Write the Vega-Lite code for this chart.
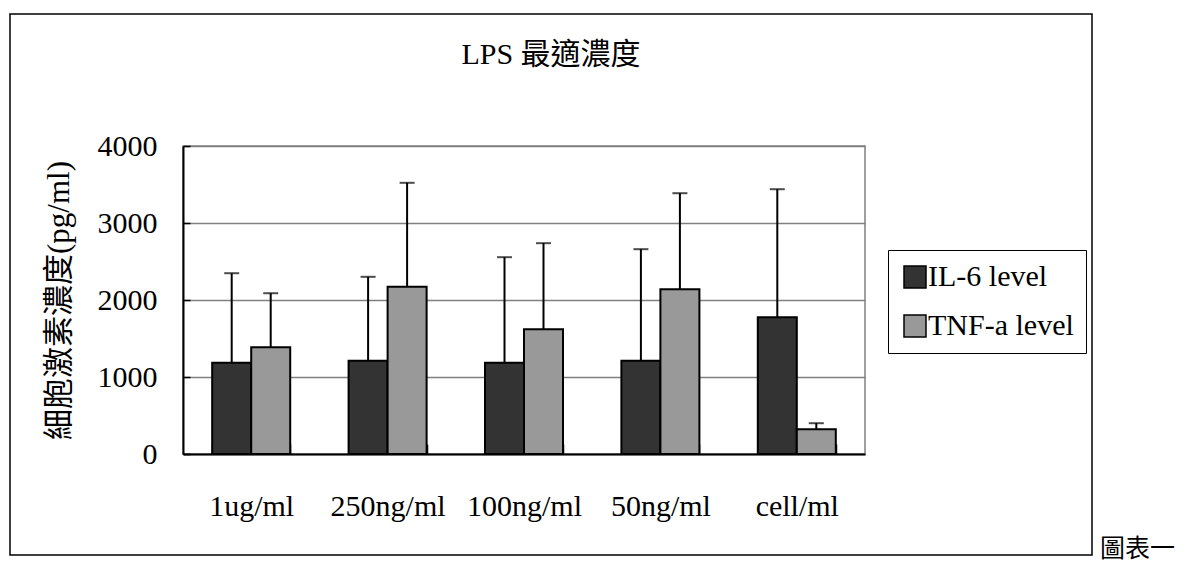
{
  "$schema": "https://vega.github.io/schema/vega-lite/v6.json",
  "autosize": "none",
  "width": 682,
  "height": 308,
  "padding": {"left": 183, "top": 146, "right": 332, "bottom": 113},
  "background": "white",
  "title": {"text": "LPS 最適濃度", "fontSize": 30, "fontWeight": "normal", "color": "#000000", "anchor": "middle", "frame": "group", "dx": 27, "offset": -57},
  "data": {"values": [
    {"conc": "1ug/ml", "series": "IL-6 level", "value": 1184, "upper": 2348},
    {"conc": "1ug/ml", "series": "TNF-a level", "value": 1387, "upper": 2088},
    {"conc": "250ng/ml", "series": "IL-6 level", "value": 1210, "upper": 2301},
    {"conc": "250ng/ml", "series": "TNF-a level", "value": 2171, "upper": 3522},
    {"conc": "100ng/ml", "series": "IL-6 level", "value": 1184, "upper": 2556},
    {"conc": "100ng/ml", "series": "TNF-a level", "value": 1621, "upper": 2738},
    {"conc": "50ng/ml", "series": "IL-6 level", "value": 1210, "upper": 2660},
    {"conc": "50ng/ml", "series": "TNF-a level", "value": 2140, "upper": 3387},
    {"conc": "cell/ml", "series": "IL-6 level", "value": 1777, "upper": 3439},
    {"conc": "cell/ml", "series": "TNF-a level", "value": 322, "upper": 400}
  ]},
  "encoding": {
    "x": {"field": "conc", "type": "nominal", "sort": null,
      "scale": {"paddingInner": 0.428, "paddingOuter": 0.214},
      "axis": {"title": null, "labelAngle": 0, "labelFontSize": 30, "labelFont": "Liberation Serif", "labelColor": "#000000", "labelPadding": 47, "tickBand": "extent", "tickSize": -10, "tickColor": "#000000", "tickWidth": 1.5, "domainColor": "#000000", "domainWidth": 2, "grid": false}},
    "xOffset": {"field": "series", "type": "nominal", "scale": {"paddingInner": 0, "paddingOuter": 0}}
  },
  "layer": [
    {
      "mark": {"type": "bar", "stroke": "#000000", "strokeWidth": 2},
      "encoding": {
        "y": {"field": "value", "type": "quantitative",
          "scale": {"domain": [0, 4000], "nice": false},
          "axis": {"title": "細胞激素濃度(pg/ml)", "values": [0, 1000, 2000, 3000, 4000], "format": "d", "labelFontSize": 30, "labelFont": "Liberation Serif", "labelColor": "#000000", "labelPadding": 33, "tickSize": -7, "tickColor": "#000000", "tickWidth": 1.5, "domainColor": "#000000", "domainWidth": 2, "gridColor": "#808080", "gridWidth": 1.5, "titleFontSize": 31, "titleFont": "Liberation Serif, Noto Sans CJK TC", "titleFontWeight": "normal", "titleColor": "#000000", "titlePadding": 22}},
        "color": {"field": "series", "type": "nominal",
          "scale": {"range": ["#333333", "#999999"]},
          "legend": {"title": null, "orient": "none", "legendX": 705, "legendY": 104, "strokeColor": "#000000", "padding": 12, "symbolType": "square", "symbolSize": 484, "symbolStrokeColor": "#000000", "symbolStrokeWidth": 1.5, "symbolOpacity": 1, "labelFont": "Liberation Serif", "labelFontSize": 30, "labelColor": "#000000", "labelOffset": -2, "rowPadding": 19, "labelExpr": "datum.label + '\u00a0\u00a0'"}}
      }
    },
    {
      "mark": {"type": "rule", "color": "#000000", "strokeWidth": 2},
      "encoding": {
        "y": {"field": "value", "type": "quantitative"},
        "y2": {"field": "upper"}
      }
    },
    {
      "mark": {"type": "tick", "color": "#000000", "thickness": 2, "size": 15, "orient": "horizontal"},
      "encoding": {
        "y": {"field": "upper", "type": "quantitative"}
      }
    },
    {
      "data": {"values": [{"label": "圖表一"}]},
      "mark": {"type": "rect", "fill": null, "fillOpacity": 0, "stroke": "#000000", "strokeWidth": 1.5},
      "encoding": {
        "x": {"value": -173},
        "x2": {"value": 909},
        "y": {"value": -132},
        "y2": {"value": 409},
        "xOffset": null
      }
    },
    {
      "data": {"values": [{"label": "圖表一"}]},
      "mark": {"type": "text", "fontSize": 25, "align": "left", "baseline": "middle", "color": "#000000"},
      "encoding": {
        "text": {"field": "label"},
        "x": {"value": 917},
        "y": {"value": 403},
        "xOffset": null
      }
    }
  ],
  "config": {
    "font": "Liberation Serif, Noto Sans CJK TC",
    "view": {"stroke": "#808080", "strokeWidth": 1.5}
  }
}
